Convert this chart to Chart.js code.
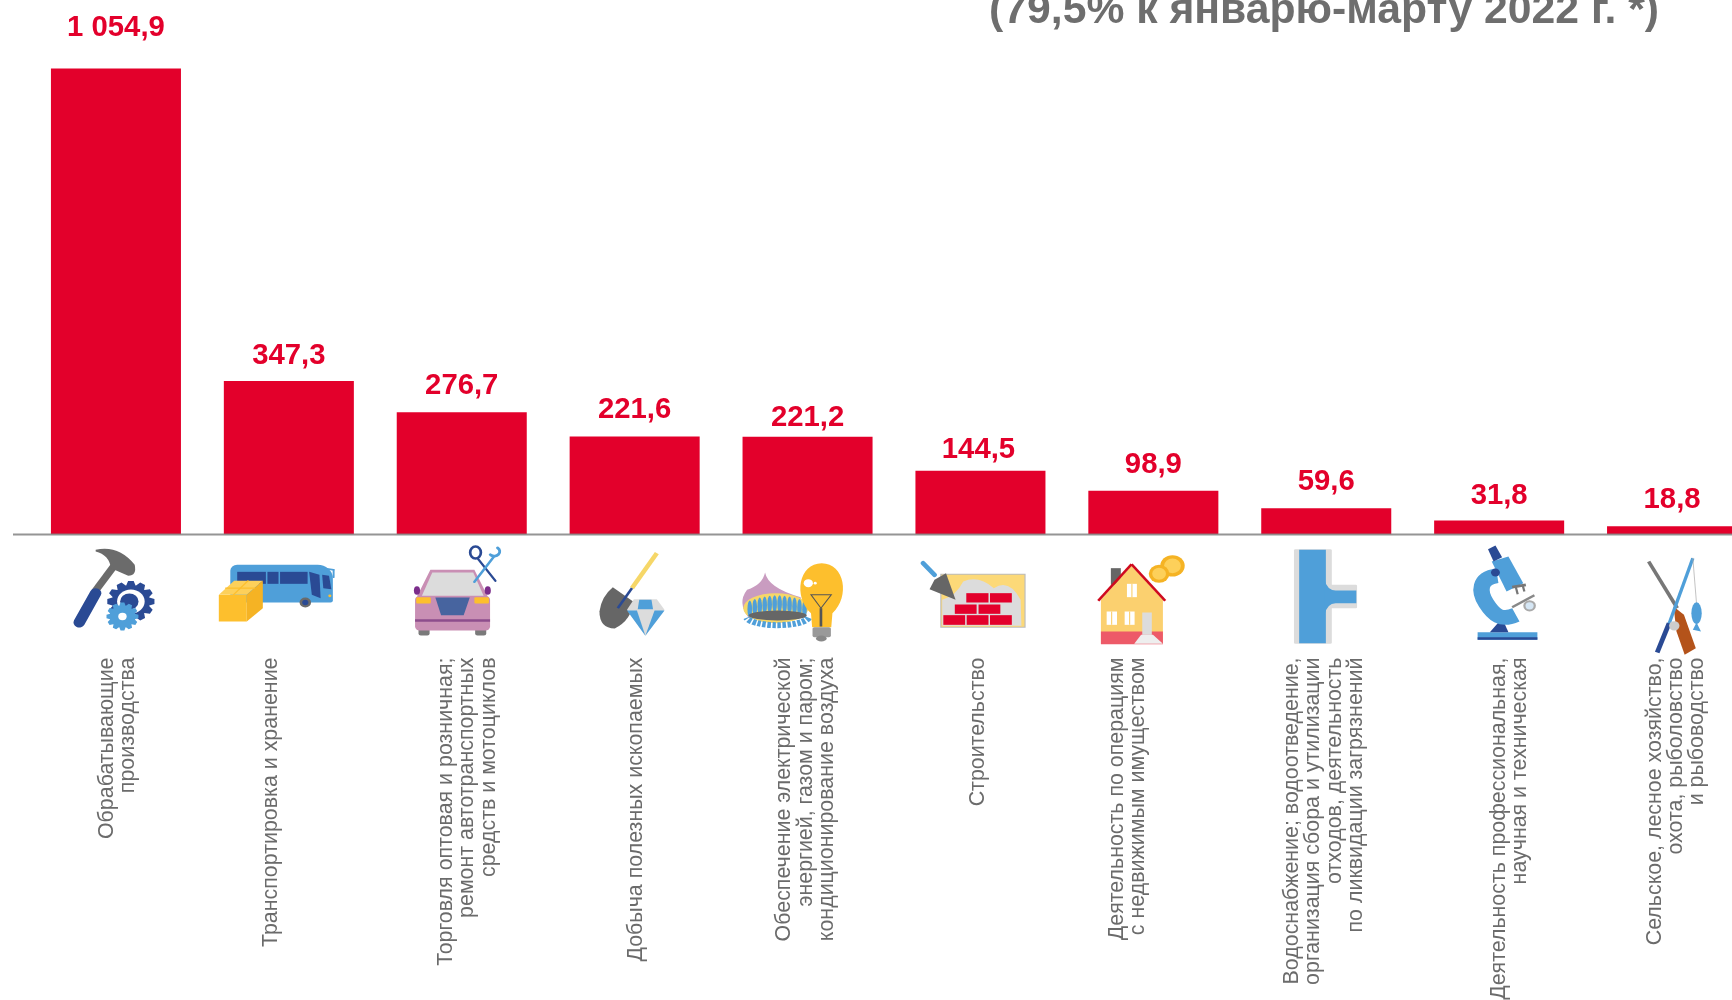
<!DOCTYPE html>
<html><head><meta charset="utf-8">
<style>html,body{margin:0;padding:0;background:#fff;overflow:hidden;width:1732px;height:1000px}canvas{display:block}</style>
<script src="https://cdn.jsdelivr.net/npm/chart.js@4"></script></head>
<body><canvas id="c" width="1780" height="1000" style="width:1780px;height:1000px"></canvas>
<script>
const categories = [
 ["Обрабатывающие","производства"],
 ["Транспортировка и хранение"],
 ["Торговля оптовая и розничная;","ремонт автотранспортных","средств и мотоциклов"],
 ["Добыча полезных ископаемых"],
 ["Обеспечение электрической","энергией, газом и паром;","кондиционирование воздуха"],
 ["Строительство"],
 ["Деятельность по операциям","с недвижимым имуществом"],
 ["Водоснабжение; водоотведение,","организация сбора и утилизации","отходов, деятельность","по ликвидации загрязнений"],
 ["Деятельность профессиональная,","научная и техническая"],
 ["Сельское, лесное хозяйство,","охота, рыболовство","и рыбоводство"]
];
const values = [1054.9,347.3,276.7,221.6,221.2,144.5,98.9,59.6,31.8,18.8];
const titleText = "(79,5% к январю-марту 2022 г. *)";
const labelLift = [41,25,26,27,18.5,21,25.5,26.5,25,26];
const labelShift = [0,0,0,0,0,-2,0,0,0,0];
const tickShift = [-20,-28,-26.5,-9,-34,-13,-47,-45,-11,-28];

const RED="#e3002b",NAVY="#2a4a94",BLUE="#4f9fd9",GREY="#6b6b6b",YEL="#fdbf2d",LG="#dcdcdc";
function fmt(v){const s=v.toFixed(1).replace('.',',');const p=s.split(',');return p[0].replace(/\B(?=(\d{3})+$)/g,' ')+','+p[1];}
function poly(c,col,pts){c.fillStyle=col;c.beginPath();pts.forEach((p,i)=>i?c.lineTo(p[0],p[1]):c.moveTo(p[0],p[1]));c.closePath();c.fill();}
function ln(c,col,w,x1,y1,x2,y2,cap){c.strokeStyle=col;c.lineWidth=w;c.lineCap=cap||'round';c.beginPath();c.moveTo(x1,y1);c.lineTo(x2,y2);c.stroke();}
function rect(c,col,x1,y1,x2,y2,r){c.fillStyle=col;c.beginPath();c.roundRect(x1,y1,x2-x1,y2-y1,r||0);c.fill();}
function circ(c,col,x,y,rx,ry){c.fillStyle=col;c.beginPath();c.ellipse(x,y,rx,ry||rx,0,0,Math.PI*2);c.fill();}
function gear(c,col,x,y,r,n,hole,holeCol){
  c.fillStyle=col;c.beginPath();
  for(let i=0;i<n;i++){const a=i/n*Math.PI*2,d=Math.PI/n;
    [[a-d*.95,r*.8],[a-d*.45,r],[a+d*.45,r],[a+d*.95,r*.8]].forEach(q=>c.lineTo(x+Math.cos(q[0])*q[1],y+Math.sin(q[0])*q[1]));}
  c.closePath();c.fill();circ(c,holeCol||'#fff',x,y,hole);
}
const iconDraw=[
 c=>{ // hammer and gears
  ln(c,GREY,20,248,275,300,195,'butt');
  c.fillStyle=GREY;c.beginPath();c.moveTo(250,150);c.quadraticCurveTo(310,135,352,195);c.quadraticCurveTo(358,228,335,228);c.lineTo(290,205);c.quadraticCurveTo(285,165,250,155);c.fill();
  ln(c,NAVY,30,207,368,250,280);
  gear(c,NAVY,342,305,62,12,36);circ(c,NAVY,338,305,24);
  gear(c,BLUE,320,350,42,12,11);
 },
 c=>{ // bus and box
  c.fillStyle=BLUE;c.beginPath();c.roundRect(602,195,268,113,[18,40,6,6]);c.fill();
  rect(c,NAVY,620,216,695,252);rect(c,NAVY,699,216,728,252);rect(c,NAVY,732,216,804,252);
  poly(c,NAVY,[[808,216],[835,225],[838,295],[815,285]]);
  poly(c,NAVY,[[842,225],[860,228],[866,268],[845,265]]);
  ln(c,BLUE,5,850,206,872,210);ln(c,BLUE,5,872,210,872,232);
  circ(c,GREY,798,308,15);circ(c,NAVY,798,308,8);circ(c,YEL,862,288,4);
  poly(c,YEL,[[572,285],[645,285],[645,365],[572,365]]);
  poly(c,'#fdd05a',[[572,285],[612,243],[687,243],[645,285]]);
  poly(c,'#f5b324',[[645,285],[687,243],[687,325],[645,365]]);
  ln(c,YEL,4,610,285,648,243);ln(c,YEL,4,590,265,665,265);
 },
 c=>{ // car and tools
  poly(c,'#c98fb4',[[1125,210],[1240,210],[1275,290],[1090,290]]);
  poly(c,LG,[[1130,218],[1237,218],[1265,290],[1102,290]]);
  rect(c,'#7a7a7a',1094,380,1123,407,6);rect(c,'#7a7a7a',1242,380,1271,407,6);
  rect(c,'#c98fb4',1085,288,1281,392,12);
  rect(c,'#8d4d8c',1085,358,1281,366);
  circ(c,'#7b2d8b',1090,272,8,13);circ(c,'#7b2d8b',1275,272,8,13);
  rect(c,YEL,1088,292,1126,311,3);rect(c,YEL,1240,292,1278,311,3);
  poly(c,'#47649f',[[1138,293],[1228,293],[1212,346],[1153,346]]);
  ln(c,NAVY,6,1250,178,1295,243);
  c.strokeStyle=NAVY;c.lineWidth=7;c.beginPath();c.ellipse(1243,158,14,18,0,0,7);c.stroke();
  ln(c,BLUE,7,1290,172,1240,246);
  c.strokeStyle=BLUE;c.lineWidth=8;c.beginPath();c.arc(1292,155,14,-0.9,2.4);c.stroke();
 },
 c=>{ // shovel and gem
  ln(c,'#f6d768',12,150,160,85,265,'butt');
  c.fillStyle='#666';c.beginPath();c.moveTo(35,262);c.lineTo(88,305);c.quadraticCurveTo(85,360,40,386);c.quadraticCurveTo(0,385,0,335);c.quadraticCurveTo(5,290,35,262);c.fill();
  ln(c,NAVY,7,85,265,48,325,'butt');
  poly(c,LG,[[90,298],[150,298],[170,330],[120,408],[72,330]]);
  poly(c,BLUE,[[104,300],[136,300],[140,328],[100,328]]);
  poly(c,BLUE,[[72,332],[98,332],[120,408]]);poly(c,BLUE,[[170,332],[144,332],[120,408]]);
 },
 c=>{ // flame and bulb
  c.fillStyle='#c99cc0';c.beginPath();c.moveTo(432,218);c.quadraticCurveTo(440,265,525,292);c.lineTo(530,340);c.lineTo(390,355);c.quadraticCurveTo(358,310,385,270);c.quadraticCurveTo(425,255,432,218);c.fill();
  c.fillStyle='#f6d768';c.beginPath();c.ellipse(460,325,85,45,0,0,7);c.fill();
  c.fillStyle=BLUE;for(let i=0;i<12;i++){const x=392+i*13;c.beginPath();c.ellipse(x,328-Math.sin(i/11*3.14)*16,6,26,0,0,7);c.fill();}
  circ(c,'#666',465,347,76,15);
  c.strokeStyle=BLUE;c.lineWidth=18;c.setLineDash([9,4]);c.beginPath();c.ellipse(465,350,82,26,0,0.15,3);c.stroke();c.setLineDash([]);
  c.fillStyle=YEL;c.beginPath();c.moveTo(552,340);c.bezierCurveTo(505,290,520,190,580,190);c.bezierCurveTo(640,190,655,290,608,340);c.lineTo(605,382);c.lineTo(555,382);c.fill();
  circ(c,'#fff',545,250,12);circ(c,'#fff',563,250,4);
  c.strokeStyle='#555';c.lineWidth=3;c.beginPath();c.moveTo(552,285);c.lineTo(605,285);c.lineTo(578,325);c.closePath();c.stroke();
  ln(c,'#555',7,578,325,578,380,'butt');
  rect(c,'#999',556,382,604,412,5);circ(c,'#888',579,416,14,9);
 },
 c=>{ // trowel and bricks
  rect(c,'#bbb',890,222,1113,384);rect(c,'#fcd978',893,225,1110,381);
  c.fillStyle=LG;c.beginPath();c.moveTo(895,300);c.quadraticCurveTo(930,290,950,245);c.quadraticCurveTo(990,225,1030,265);c.quadraticCurveTo(1070,235,1100,300);c.lineTo(1102,378);c.lineTo(895,378);c.fill();
  [[958,280,1016,308],[1020,280,1077,308],[928,314,985,342],[990,314,1047,342],[898,346,955,375],[959,346,1016,375],[1020,346,1077,375]].forEach(b=>rect(c,RED,b[0],b[1],b[2],b[3]));
  ln(c,BLUE,13,845,190,875,225);
  poly(c,'#666',[[905,220],[930,300],[862,268],[875,240]]);
 },
 c=>{ // house and coins
  ln(c,'#666',26,1349,205,1349,255,'butt');
  poly(c,'#fbd06f',[[1310,300],[1390,198],[1472,300],[1472,432],[1310,432]]);
  rect(c,'#ed5a68',1310,395,1472,433);
  ln(c,'#cf0a1e',7,1303,303,1390,193,'butt');ln(c,'#cf0a1e',7,1390,193,1478,303,'butt');
  rect(c,'#fff',1378,252,1404,292);rect(c,'#fff',1325,335,1352,375);rect(c,'#fff',1372,335,1398,375);
  ln(c,'#fbd06f',3,1391,252,1391,292,'butt');ln(c,'#fbd06f',3,1338,335,1338,375,'butt');ln(c,'#fbd06f',3,1385,335,1385,375,'butt');
  rect(c,LG,1418,338,1443,405);
  poly(c,'#eee',[[1415,405],[1446,405],[1472,432],[1397,432]]);
  circ(c,'#f5b324',1497,198,32);circ(c,'#fdd05a',1497,198,22);circ(c,'#f5b324',1462,222,27);circ(c,'#fdd05a',1462,222,18);
 },
 c=>{ // pipe
  rect(c,LG,388,148,490,432,4);rect(c,LG,480,255,558,325,3);
  rect(c,BLUE,402,150,474,430);
  c.fillStyle=BLUE;c.beginPath();c.moveTo(470,240);c.quadraticCurveTo(478,272,500,272);c.lineTo(556,272);c.lineTo(556,310);c.lineTo(500,310);c.quadraticCurveTo(478,310,470,345);c.fill();
 },
 c=>{ // microscope
  rect(c,BLUE,882,397,1043,420);rect(c,NAVY,882,412,1043,420);
  poly(c,NAVY,[[915,397],[948,355],[965,397]]);
  c.strokeStyle=BLUE;c.lineWidth=44;c.lineCap='butt';c.beginPath();c.moveTo(935,228);c.bezierCurveTo(885,235,885,275,905,310);c.bezierCurveTo(925,345,945,365,985,345);c.stroke();
  poly(c,BLUE,[[920,185],[965,170],[1005,250],[960,275]]);
  poly(c,NAVY,[[910,148],[930,137],[948,172],[925,185]]);circ(c,NAVY,930,218,12);
  ln(c,'#777',8,975,262,1012,255,'butt');ln(c,'#777',6,985,262,990,283,'butt');ln(c,'#777',6,1003,255,1008,275,'butt');
  ln(c,'#888',7,975,322,1035,286,'butt');
  circ(c,'#aaa',1022,318,17);circ(c,'#d5e6f4',1022,318,11);
 },
 c=>{ // rifle, rod, fish
  ln(c,'#777',10,1343,185,1420,325,'butt');
  poly(c,'#b4531a',[[1410,320],[1438,345],[1470,445],[1440,465],[1418,395]]);
  ln(c,BLUE,9,1462,175,1398,372,'butt');
  ln(c,NAVY,13,1398,370,1366,458,'butt');
  ln(c,'#aaa',2,1462,175,1472,312);
  circ(c,'#ccc',1412,378,14);
  circ(c,BLUE,1472,340,14,33);poly(c,BLUE,[[1472,368],[1484,395],[1462,390]]);
 }
];
const iconOrigin=[303,755,1207,92,543,995,1447,475,940,1406];
const iconScale=[2.613,2.613,2.613,2.613,2.613,2.613,2.613,2.694,2.694,2.694];

const decor={id:'decor',
 beforeDraw(ch){
  const x=ch.scales.x;
  x.getLabelItems().forEach((it,i)=>{it.options.translation[0]=x.getPixelForValue(i)+tickShift[i];});
 },
 afterDatasetsDraw(ch){
  const c=ch.ctx,x=ch.scales.x,y=ch.scales.y,base=y.getPixelForValue(0);
  c.save();
  c.strokeStyle='rgba(130,130,130,0.85)';c.lineWidth=2;c.beginPath();c.moveTo(13,base);c.lineTo(1780,base);c.stroke();
  c.fillStyle=RED;c.font='bold 29.3px "Liberation Sans"';c.textAlign='center';c.textBaseline='middle';
  values.forEach((v,i)=>c.fillText(fmt(v),x.getPixelForValue(i)+labelShift[i],y.getPixelForValue(v)-labelLift[i]));
  c.fillStyle='#6e6e6e';c.font='bold 42.7px "Liberation Sans"';c.textAlign='right';
  c.fillText(titleText,1659,11);
  iconDraw.forEach((fn,i)=>{c.save();c.translate(x.getPixelForValue(i),base);c.scale(1/iconScale[i],1/3);c.translate(-iconOrigin[i],-104);fn(c);c.restore();});
  c.restore();
 }};
new Chart(document.getElementById('c'),{
 type:'bar',
 data:{labels:categories,datasets:[{data:values,backgroundColor:RED,barPercentage:0.752,categoryPercentage:1}]},
 plugins:[decor],
 options:{responsive:false,animation:false,
  layout:{padding:{left:29.5,right:21.5,top:0,bottom:0}},
  plugins:{legend:{display:false},tooltip:{enabled:false},title:{display:false}},
  scales:{
   x:{offset:true,border:{display:false},grid:{display:false,drawTicks:false},
      afterFit(s){s.height=465.5;s.paddingLeft=0;s.paddingRight=0;},
      ticks:{autoSkip:false,minRotation:90,maxRotation:90,padding:123,color:'#6b6b6b',font:{family:'"Liberation Sans"',size:21.4,lineHeight:1}}},
   y:{display:false,min:0,max:1210}
  }}
});
</script></body></html>
